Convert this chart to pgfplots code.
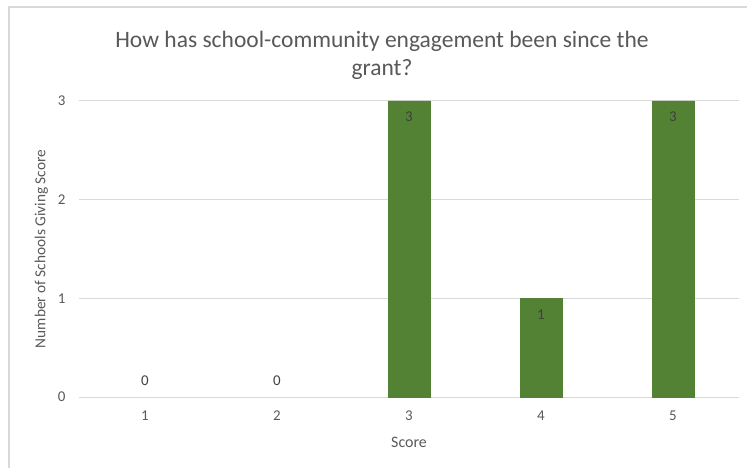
\documentclass[border=0pt]{standalone}
\usepackage{pgfplots}
\pgfplotsset{compat=1.18}
\usepackage{fontspec}
\setmainfont{Carlito}
\definecolor{txt}{HTML}{595959}
\definecolor{lbl}{HTML}{404040}
\definecolor{grd}{HTML}{D9D9D9}
\definecolor{bar}{HTML}{548235}
\begin{document}
\begin{tikzpicture}
\useasboundingbox (0,0) rectangle (747bp,468bp);
\draw[color=grd, line width=1.2bp] (9bp,-5bp) |- (760bp,461bp);
\begin{axis}[
  at={(79bp,71bp)}, anchor=south west,
  scale only axis, width=660bp, height=296bp,
  xmin=0.5, xmax=5.5, ymin=0, ymax=3,
  xtick={1,2,3,4,5}, ytick={0,1,2,3},
  /pgf/number format/assume math mode=true,
  axis y line*=left, axis x line*=bottom,
  y axis line style={draw=none},
  x axis line style={color=grd, line width=1bp, -},
  major tick length=0pt,
  ymajorgrids, grid style={color=grd, line width=1bp},
  ticklabel style={font=\fontsize{15}{17}\selectfont, color=txt},
  xticklabel style={yshift=-10bp},
  yticklabel style={xshift=-10bp},
  xlabel={Score}, ylabel={Number of Schools Giving Score},
  label style={font=\fontsize{16}{18}\selectfont, color=txt},
  xlabel style={yshift=-10bp},
  ylabel style={yshift=3bp, font=\fontsize{15.4}{18}\selectfont},
  title={How has school-community engagement been since the\\grant?},
  title style={at={(axis description cs:0.5,1)}, anchor=center, yshift=40bp, xshift=-27bp, align=center, font=\fontsize{23.6}{28}\selectfont, color=txt},
  ybar, bar width=42bp, bar shift=0pt,
  clip=false,
]
\addplot[fill=bar, draw=bar, nodes near coords,
  nodes near coords style={anchor=north, inner sep=0pt, yshift=-11bp, font=\fontsize{15}{17}\selectfont, color=lbl}]
  coordinates {(3,3) (4,1) (5,3)};
\addplot[draw=none, fill=none, nodes near coords,
  nodes near coords style={anchor=south, inner sep=0pt, yshift=11bp, font=\fontsize{15}{17}\selectfont, color=lbl}]
  coordinates {(1,0) (2,0)};
\end{axis}
\end{tikzpicture}
\end{document}
